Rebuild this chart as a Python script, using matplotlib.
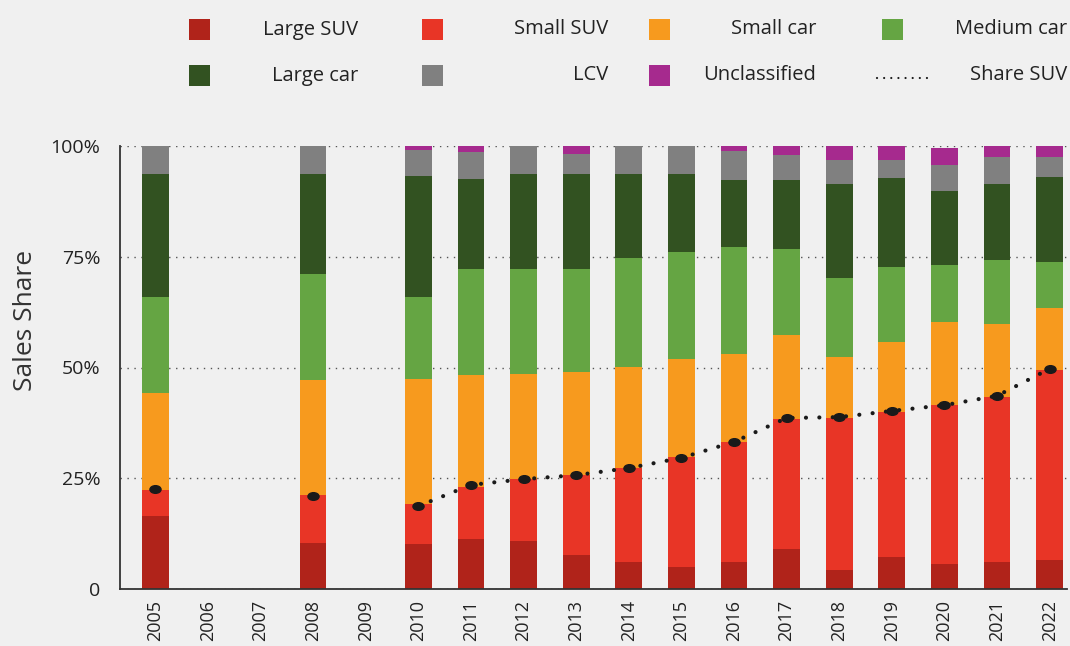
import numpy as np
import matplotlib
matplotlib.use("Agg")
import matplotlib.pyplot as plt
from matplotlib.patches import Rectangle
from matplotlib.lines import Line2D
from matplotlib.path import Path
from matplotlib.transforms import Affine2D

plt.rcParams['font.family'] = ['Open Sans', 'DejaVu Sans']

years = [str(y) for y in range(2005, 2023)]
nan = np.nan

# segment shares (%) per year
large_suv = [16.5, nan, nan, 10.4, nan, 10.2, 11.3, 10.8, 7.7, 6.1, 5.0, 6.1, 9.0, 4.3, 7.2, 5.6, 6.1, 6.5]
small_suv = [5.8, nan, nan, 10.8, nan, 9.0, 11.7, 14.0, 18.0, 21.2, 24.8, 27.1, 29.4, 34.3, 32.8, 35.9, 37.2, 42.9]
small_car = [21.9, nan, nan, 26.0, nan, 28.2, 25.3, 23.7, 23.3, 22.8, 22.1, 19.8, 18.9, 13.8, 15.8, 18.8, 16.5, 14.0]
medium_car = [21.7, nan, nan, 23.9, nan, 18.5, 23.9, 23.7, 23.2, 24.6, 24.2, 24.2, 19.4, 17.8, 16.9, 12.8, 14.5, 10.4]
large_car = [27.8, nan, nan, 22.6, nan, 27.3, 20.4, 21.5, 21.5, 19.0, 17.6, 15.1, 15.6, 21.2, 20.1, 16.7, 17.1, 19.2]
lcv = [6.3, nan, nan, 6.3, nan, 5.9, 6.0, 6.3, 4.5, 6.3, 6.3, 6.6, 5.7, 5.4, 4.0, 5.9, 6.1, 4.5]
unclassified = [0.0, nan, nan, 0.0, nan, 0.9, 1.4, 0.0, 1.8, 0.0, 0.0, 1.1, 2.0, 3.2, 3.2, 3.8, 2.5, 2.5]
share_suv = [22.6, nan, nan, 21.0, nan, 18.7, 23.5, 24.8, 25.7, 27.3, 29.6, 33.2, 38.6, 38.8, 40.2, 41.5, 43.6, 49.7]

series = [
    ("Large SUV", large_suv, "#b0231a"),
    ("Small SUV", small_suv, "#e83526"),
    ("Small car", small_car, "#f79a1e"),
    ("Medium car", medium_car, "#65a543"),
    ("Large car", large_car, "#325221"),
    ("LCV", lcv, "#808080"),
    ("Unclassified", unclassified, "#a62a8e"),
]

W, H = 1070, 646
bg = "#f0f0f0"
fig = plt.figure(figsize=(W / 100, H / 100), dpi=100, facecolor=bg)
ax = fig.add_axes([120 / W, 1 - 589 / H, (1067 - 120) / W, (589 - 146) / H])
ax.set_facecolor(bg)

x = np.arange(len(years))
bottom = np.zeros(len(years))
for name, vals, col in series:
    v = np.array(vals, dtype=float)
    ax.bar(x, v, width=0.51, bottom=bottom, color=col, zorder=2, linewidth=0)
    bottom = bottom + np.nan_to_num(v)

# Share SUV line
ellipse = Path.unit_circle().transformed(Affine2D().scale(1.45, 1.0))
ax.plot(x, share_suv, color="#1a1a1a", lw=3.0, linestyle=(0, (0.01, 3.2)),
        dash_capstyle="round", zorder=3)
ax.plot(x, share_suv, color="#1a1a1a", linestyle="none", marker=ellipse,
        markersize=8, zorder=4)

ax.set_xlim(-0.67, len(years) - 1 + 0.33)
ax.set_ylim(0, 100)
ax.set_yticks([0, 25, 50, 75, 100])
ax.set_yticklabels(["0", "25%", "50%", "75%", "100%"], fontsize=14, color="#222222")
ax.set_xticks(x)
ax.set_xticklabels(years, rotation=90, fontsize=13, color="#222222")
ax.tick_params(axis="y", length=0, pad=14)
ax.tick_params(axis="x", length=0, pad=8)
ax.yaxis.grid(True, linestyle=(0, (1, 4)), color="#555555", lw=1.0, zorder=0)
ax.set_axisbelow(True)
for s in ["top", "right"]:
    ax.spines[s].set_visible(False)
for s in ["left", "bottom"]:
    ax.spines[s].set_color("#333333")
    ax.spines[s].set_linewidth(1.3)
ax.set_ylabel("Sales Share", fontsize=19, color="#333333")
ax.yaxis.set_label_coords(-0.087, 0.607)

# legend drawn by hand: patch at left, label right-aligned in each column
patch_x = [189, 422, 649, 882]
text_r = [358, 608, 816, 1067]
rows = [29.5, 75.5]
entries = [(n, c) for n, _, c in series] + [("Share SUV", None)]
for i, (name, col) in enumerate(entries):
    r, c = divmod(i, 4)
    yc = rows[r]
    if col is not None:
        fig.add_artist(Rectangle((patch_x[c] / W, 1 - (yc + 10.5) / H), 21 / W, 21 / H,
                                 transform=fig.transFigure, color=col, lw=0))
    else:
        fig.add_artist(Line2D([877 / W, 933 / W], [1 - (yc + 2) / H] * 2,
                              transform=fig.transFigure, color="#1a1a1a", lw=1.6,
                              linestyle=(0, (0.01, 3.2)), dash_capstyle="round"))
    fig.text(text_r[c] / W, 1 - yc / H, name, ha="right", va="center",
             fontsize=14.5, color="#222222")

fig.savefig("out.png", dpi=100, facecolor=bg)
